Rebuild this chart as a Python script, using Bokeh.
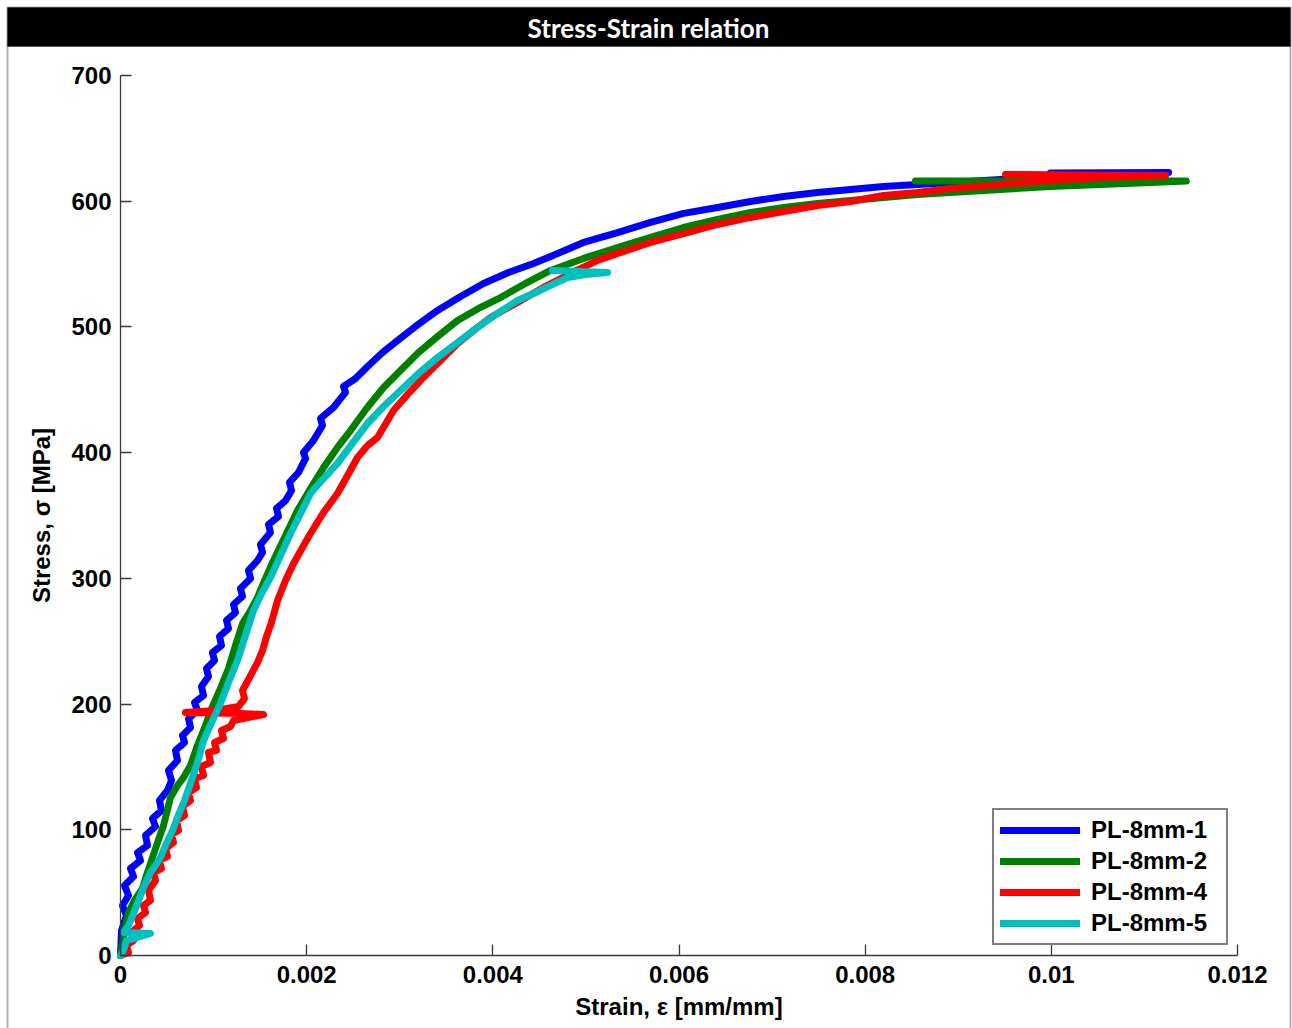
import numpy as np
from bokeh.plotting import figure
from bokeh.models import Range1d, FixedTicker, BoxAnnotation, Label, Legend, LegendItem
from bokeh.embed import file_html
from bokeh.resources import INLINE

# ---------------- data (strain in 1e-3 mm/mm, stress in MPa) ----------------
series_names = ["PL-8mm-1", "PL-8mm-2", "PL-8mm-4", "PL-8mm-5"]
series_colors = ["#0000FF", "#008000", "#FF0000", "#00BFBF"]

strain1_milli = [0, 0.011, 0.064, 0.021, 0.086, 0.043, 0.140, 0.107, 0.215, 0.183, 0.290, 0.269, 0.376,
                 0.344, 0.440, 0.419, 0.505, 0.548, 0.516, 0.612, 0.591, 0.688, 0.666, 0.752, 0.731, 0.827,
                 0.795, 0.892, 0.870, 0.945, 0.924, 1.010, 0.988, 1.085, 1.064, 1.160, 1.139, 1.235, 1.214,
                 1.311, 1.289, 1.397, 1.375, 1.472, 1.526, 1.504, 1.611, 1.590, 1.697, 1.676, 1.773, 1.837,
                 1.816, 1.912, 1.988, 1.966, 2.073, 2.170, 2.149, 2.288, 2.417, 2.396, 2.525, 2.654, 2.815,
                 2.976, 3.169, 3.406, 3.653, 3.900, 4.168, 4.437, 4.620, 4.974, 5.340, 5.694, 6.049, 6.414,
                 6.768, 7.123, 7.488, 7.843, 8.197, 8.563, 8.917, 9.454, 9.991, 10.528, 11.26, 9.99]
stress1 = [0, 19.9, 31.8, 39.8, 47.7, 55.7, 62.8, 69.2, 75.6, 81.9, 87.5, 95.5, 102.6,
           109.0, 115.3, 123.3, 131.3, 139.2, 147.2, 155.1, 163.1, 169.4, 175.0, 181.4, 188.5, 194.9,
           201.3, 206.8, 214.0, 221.9, 228.3, 234.7, 241.0, 246.6, 253.8, 260.1, 266.5, 272.8, 279.2,
           285.6, 291.9, 299.9, 306.3, 314.2, 320.6, 326.9, 336.5, 342.9, 349.2, 355.6, 361.9, 369.9,
           376.3, 384.2, 395.4, 400.1, 409.7, 421.6, 427.2, 435.9, 447.9, 452.6, 459.0, 468.5, 479.7,
           489.2, 500.4, 513.1, 524.2, 534.6, 543.3, 550.5, 556.0, 567.2, 575.1, 583.1, 590.3, 595.0,
           599.8, 603.8, 607.0, 609.3, 611.7, 613.3, 614.9, 617.3, 619.7, 621.3, 622.9, 622.5]

strain2_milli = [0, 0.043, 0.086, 0.150, 0.236, 0.279, 0.322, 0.387, 0.462, 0.537, 0.612, 0.677, 0.752,
                 0.827, 0.913, 0.988, 1.074, 1.160, 1.235, 1.311, 1.397, 1.472, 1.558, 1.644, 1.773, 1.902,
                 2.041, 2.181, 2.331, 2.471, 2.643, 2.826, 3.008, 3.191, 3.406, 3.621, 3.846, 4.083, 4.351,
                 4.620, 4.974, 5.340, 5.694, 6.049, 6.414, 6.768, 7.123, 7.488, 7.843, 8.197, 8.563, 8.917,
                 9.454, 9.991, 10.528, 11.066, 11.45, 8.54]
stress2 = [0, 19.9, 34.2, 43.8, 53.3, 63.6, 73.2, 87.5, 103.4, 125.7, 135.2, 141.6, 151.1,
           167.1, 183.0, 198.1, 212.4, 228.3, 246.6, 264.1, 274.4, 284.8, 299.9, 314.2, 334.1, 354.0,
           371.5, 388.2, 404.1, 417.6, 435.1, 451.8, 465.4, 478.9, 492.4, 505.1, 514.7, 523.4, 534.6,
           544.9, 554.5, 563.2, 571.2, 579.1, 585.5, 591.0, 595.0, 598.2, 600.6, 603.0, 605.4, 607.0,
           609.3, 611.7, 613.3, 614.9, 616.0, 616.0]

strain4_milli = [0, 0.086, 0.064, 0.140, 0.118, 0.204, 0.183, 0.269, 0.247, 0.322, 0.301, 0.376, 0.355,
                 0.440, 0.419, 0.505, 0.483, 0.569, 0.548, 0.623, 0.602, 0.688, 0.666, 0.752, 0.731, 0.817,
                 0.795, 0.892, 0.870, 0.967, 0.945, 1.031, 1.010, 1.107, 1.085, 1.182, 1.214, 1.536, 1.289,
                 0.698, 1.021, 1.268, 1.332, 1.311, 1.397, 1.472, 1.526, 1.569, 1.622, 1.687, 1.773, 1.859,
                 1.955, 2.041, 2.181, 2.331, 2.439, 2.546, 2.654, 2.761, 2.933, 3.094, 3.255, 3.438, 3.621,
                 3.792, 3.975, 4.265, 4.544, 4.835, 5.125, 5.340, 5.694, 6.049, 6.414, 6.768, 7.123, 7.488,
                 7.843, 8.197, 8.563, 8.917, 9.454, 9.991, 10.528, 11.227, 9.508]
stress4 = [0, 2.4, 8.0, 11.9, 18.3, 23.9, 29.4, 34.2, 39.8, 43.8, 51.7, 59.7, 66.0,
           69.2, 75.6, 78.8, 85.1, 89.9, 96.3, 99.4, 107.4, 111.4, 118.5, 123.3, 129.7, 133.6,
           140.8, 143.2, 150.3, 153.5, 161.5, 163.1, 169.4, 172.6, 179.0, 182.2, 186.9, 191.7, 192.5,
           193.3, 194.9, 198.1, 204.4, 210.8, 222.7, 233.1, 242.6, 253.8, 264.9, 282.4, 298.3, 311.8,
           324.6, 335.7, 352.4, 367.5, 381.8, 396.1, 405.7, 412.1, 433.5, 447.1, 459.8, 473.3, 486.8,
           497.2, 507.5, 519.5, 531.4, 542.5, 552.9, 558.4, 567.2, 574.3, 581.5, 587.1, 591.8, 596.6,
           599.8, 604.6, 607.0, 610.1, 613.3, 616.5, 618.9, 620.5, 621.3]

strain5_milli = [0, 0.032, 0.064, 0.322, 0.032, 0.086, 0.140, 0.215, 0.247, 0.322, 0.376, 0.430, 0.483,
                 0.559, 0.612, 0.688, 0.752, 0.827, 0.892, 0.978, 1.074, 1.160, 1.257, 1.343, 1.429, 1.515,
                 1.611, 1.719, 1.826, 1.934, 2.041, 2.181, 2.331, 2.492, 2.654, 2.826, 3.008, 3.202, 3.406,
                 3.621, 3.835, 4.050, 4.265, 4.437, 4.620, 4.802, 4.996, 5.232, 4.641]
stress5 = [0, 4.0, 11.9, 17.5, 18.3, 23.9, 33.4, 47.7, 54.1, 66.0, 71.6, 78.0, 87.5,
           99.4, 109.8, 123.3, 136.8, 153.5, 171.0, 185.3, 200.5, 217.2, 234.7, 254.6, 274.4, 288.0,
           300.7, 318.2, 335.7, 351.6, 367.5, 379.4, 391.4, 407.3, 423.2, 436.7, 449.4, 463.0, 475.7,
           487.6, 499.6, 510.7, 521.0, 526.6, 533.0, 539.3, 541.7, 543.3, 544.9]

x_ticks = [0, 0.002, 0.004, 0.006, 0.008, 0.01, 0.012]
x_tick_labels = ["0", "0.002", "0.004", "0.006", "0.008", "0.01", "0.012"]
y_ticks = [0, 100, 200, 300, 400, 500, 600, 700]
x_limits = (0, 0.012)
y_limits = (0, 700)

title_text = "Stress-Strain relation"
x_label = "Strain, \u03b5 [mm/mm]"
y_label = "Stress, \u03c3 [MPa]"

# ---------------- layout geometry (pixels) ----------------
W, H = 1292, 1028
ax_left, ax_right, ax_top, ax_bottom = 120, 1237, 75, 955
sx = (x_limits[1] - x_limits[0]) / (ax_right - ax_left)
sy = (y_limits[1] - y_limits[0]) / (ax_bottom - ax_top)
x_range = Range1d(x_limits[0] - ax_left * sx, x_limits[1] + (W - ax_right) * sx)
y_range = Range1d(y_limits[0] - (H - ax_bottom) * sy, y_limits[1] + ax_top * sy)

p = figure(width=W, height=H, output_backend="svg", toolbar_location=None,
           x_range=x_range, y_range=y_range,
           min_border_left=0, min_border_right=0, min_border_top=0, min_border_bottom=0)
p.title.visible = False
p.grid.visible = False
p.outline_line_color = None
p.background_fill_color = "white"
p.border_fill_color = "white"

FONT = "Liberation Sans"
axis_color = "#3a3a3a"
for ax in (p.xaxis[0], p.yaxis[0]):
    ax.fixed_location = 0
    ax.axis_line_color = axis_color
    ax.axis_line_width = 1.3
    ax.major_tick_line_color = axis_color
    ax.major_tick_line_width = 1.3
    ax.major_tick_in = 11
    ax.major_tick_out = 0
    ax.minor_tick_line_color = None
    ax.major_label_text_font = FONT
    ax.major_label_text_font_size = "24px"
    ax.major_label_text_font_style = "bold"
    ax.major_label_text_color = "black"
    ax.axis_label_text_font = FONT
    ax.axis_label_text_font_size = "24px"
    ax.axis_label_text_font_style = "bold"
    ax.axis_label_text_color = "black"

p.xaxis[0].bounds = x_limits
p.xaxis[0].ticker = FixedTicker(ticks=x_ticks)
p.xaxis[0].major_label_overrides = {t: s for t, s in zip(x_ticks, x_tick_labels)}
p.xaxis[0].major_label_standoff = 10
p.xaxis[0].axis_label = x_label
p.xaxis[0].axis_label_standoff = 7

p.yaxis[0].bounds = y_limits
p.yaxis[0].ticker = FixedTicker(ticks=y_ticks)
p.yaxis[0].major_label_standoff = 9
p.yaxis[0].axis_label = y_label
p.yaxis[0].axis_label_standoff = 13

# outer frame and title bar (drawn below the data)
p.add_layout(BoxAnnotation(left=7, right=1290, top=7, bottom=1040,
                           left_units="canvas", right_units="canvas", top_units="canvas", bottom_units="canvas",
                           fill_color=None, line_color="black", line_width=2, level="underlay"))
p.add_layout(BoxAnnotation(left=7, right=1290, top=7, bottom=46,
                           left_units="canvas", right_units="canvas", top_units="canvas", bottom_units="canvas",
                           fill_color="black", fill_alpha=1.0, line_color="black", line_width=1, level="underlay"))
p.add_layout(Label(x=648, y=27, x_units="canvas", y_units="canvas", text=title_text,
                   text_align="center", text_baseline="middle", text_color="white",
                   text_font="Lato", text_font_size="26px", text_font_style="bold", level="overlay"))

series = [(strain1_milli, stress1), (strain2_milli, stress2), (strain4_milli, stress4), (strain5_milli, stress5)]
items = []
for (xs, ys), name, col in zip(series, series_names, series_colors):
    r = p.line(np.array(xs) * 1e-3, ys, line_color=col, line_width=7,
               line_join="round", line_cap="round")
    items.append(LegendItem(label=name, renderers=[r]))

legend = Legend(items=items, location=(992, H - 945), margin=0, padding=6,
                glyph_width=80, glyph_height=20, label_height=20, spacing=3,
                label_width=129, label_standoff=11,
                label_text_font=FONT, label_text_font_size="24px", label_text_font_style="bold",
                label_text_color="black",
                border_line_color="black", border_line_width=2,
                background_fill_color="white", background_fill_alpha=1.0)
p.add_layout(legend, "center")

open("out.html", "w").write(file_html(p, INLINE))
